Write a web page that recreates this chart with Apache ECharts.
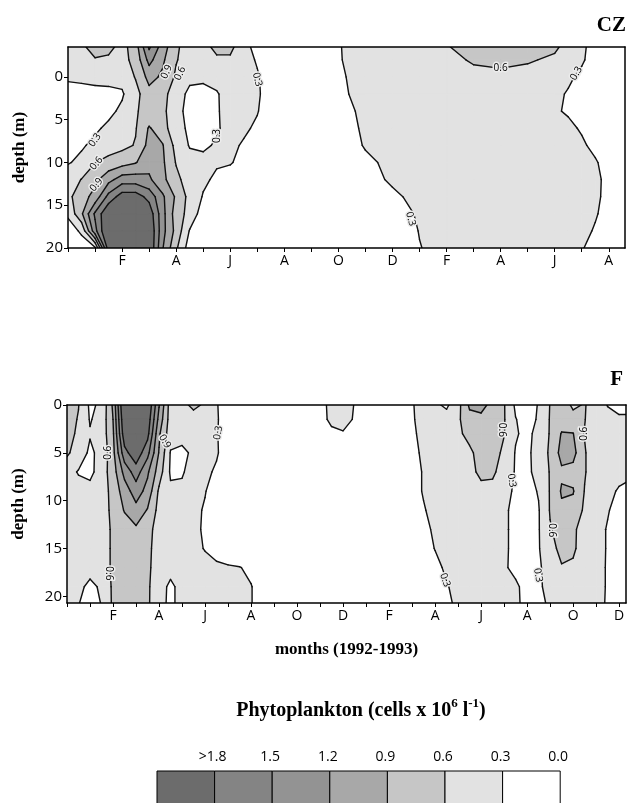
<!DOCTYPE html>
<html>
<head>
<meta charset="utf-8">
<script src="https://cdn.jsdelivr.net/npm/echarts@6/dist/echarts.min.js"></script>
<style>
html, body { margin: 0; padding: 0; background: #fff; }
#chart { width: 628px; height: 803px; }
</style>
</head>
<body>
<div id="chart"></div>
<script>
/*
 * contour levels and fills (lightest first)
 */
var levels = [0.3, 0.6, 0.9, 1.2, 1.5, 1.8];
var levelColors = ["#e2e2e2", "#c6c6c6", "#a8a8a8", "#939393", "#848484", "#6c6c6c"];

var legendLabels = [">1.8", "1.5", "1.2", "0.9", "0.6", "0.3", "0.0"];

/* month index 0 = December 1991 */
var monthLetters = ["D", "J", "F", "M", "A", "M", "J", "J", "A", "S", "O", "N", "D",
	"J", "F", "M", "A", "M", "J", "J", "A", "S", "O", "N", "D"];

var depthTicks = [0, 5, 10, 15, 20];

/*
 * CZ station
 */
var topMonths = [0, 0.5, 1, 1.5, 2, 2.5, 3, 3.5, 4, 4.5, 5, 5.5, 6, 6.5, 7, 7.5, 8,
	9, 10, 11, 12, 13, 14, 15, 16, 17, 18, 18.5, 19, 19.5, 20, 20.6];
var topDepths = [-3.5, -2, 0, 2, 4, 6, 8, 10, 12, 14, 16, 18, 20];
var topValues = [
	[0.45, 0.55, 0.7, 0.68, 0.5, 0.75, 1.55, 1.05, 0.65, 0.45, 0.5, 0.68, 0.68, 0.4, 0.2, 0.1, 0.1, 0.1, 0.28, 0.45, 0.5, 0.5, 0.58, 0.72, 0.75, 0.72, 0.65, 0.5, 0.35, 0.2, 0.15, 0.15],
	[0.42, 0.5, 0.58, 0.55, 0.5, 0.7, 1.3, 0.95, 0.62, 0.45, 0.45, 0.55, 0.55, 0.38, 0.28, 0.15, 0.1, 0.1, 0.28, 0.42, 0.48, 0.5, 0.55, 0.62, 0.65, 0.63, 0.55, 0.45, 0.33, 0.2, 0.15, 0.15],
	[0.33, 0.36, 0.4, 0.4, 0.38, 0.62, 1.0, 0.85, 0.55, 0.35, 0.35, 0.38, 0.4, 0.38, 0.32, 0.2, 0.12, 0.1, 0.26, 0.4, 0.45, 0.48, 0.5, 0.55, 0.55, 0.5, 0.45, 0.34, 0.25, 0.15, 0.12, 0.12],
	[0.22, 0.2, 0.2, 0.22, 0.27, 0.5, 0.8, 0.72, 0.4, 0.25, 0.22, 0.28, 0.4, 0.38, 0.33, 0.2, 0.12, 0.1, 0.25, 0.38, 0.42, 0.45, 0.45, 0.45, 0.45, 0.42, 0.35, 0.28, 0.2, 0.12, 0.1, 0.1],
	[0.2, 0.18, 0.2, 0.24, 0.35, 0.58, 0.68, 0.68, 0.38, 0.22, 0.18, 0.28, 0.38, 0.36, 0.31, 0.2, 0.12, 0.1, 0.2, 0.36, 0.4, 0.42, 0.42, 0.42, 0.42, 0.4, 0.32, 0.28, 0.2, 0.12, 0.1, 0.1],
	[0.2, 0.22, 0.26, 0.35, 0.45, 0.58, 0.93, 0.72, 0.4, 0.25, 0.2, 0.28, 0.36, 0.33, 0.27, 0.15, 0.12, 0.1, 0.18, 0.34, 0.38, 0.4, 0.4, 0.4, 0.4, 0.4, 0.38, 0.34, 0.28, 0.15, 0.1, 0.1],
	[0.22, 0.27, 0.36, 0.45, 0.52, 0.62, 1.0, 0.92, 0.5, 0.28, 0.27, 0.32, 0.34, 0.28, 0.2, 0.12, 0.1, 0.1, 0.15, 0.32, 0.38, 0.4, 0.4, 0.4, 0.4, 0.4, 0.38, 0.36, 0.33, 0.25, 0.15, 0.12],
	[0.28, 0.36, 0.59, 0.7, 0.78, 0.88, 1.1, 0.95, 0.58, 0.4, 0.35, 0.33, 0.32, 0.22, 0.15, 0.1, 0.1, 0.1, 0.12, 0.25, 0.36, 0.4, 0.4, 0.4, 0.4, 0.4, 0.4, 0.38, 0.36, 0.32, 0.22, 0.15],
	[0.45, 0.61, 0.82, 1.1, 1.35, 1.35, 1.25, 0.98, 0.68, 0.45, 0.35, 0.25, 0.18, 0.12, 0.1, 0.1, 0.1, 0.1, 0.1, 0.2, 0.34, 0.4, 0.4, 0.4, 0.4, 0.4, 0.4, 0.4, 0.38, 0.34, 0.25, 0.15],
	[0.52, 0.78, 1.0, 1.6, 1.95, 1.95, 1.7, 1.25, 0.85, 0.5, 0.28, 0.18, 0.12, 0.1, 0.1, 0.1, 0.1, 0.1, 0.1, 0.1, 0.25, 0.38, 0.4, 0.4, 0.4, 0.4, 0.4, 0.4, 0.38, 0.34, 0.24, 0.15],
	[0.35, 0.85, 1.55, 2.1, 2.3, 2.3, 2.0, 1.3, 0.75, 0.5, 0.15, 0.1, 0.1, 0.1, 0.1, 0.1, 0.1, 0.1, 0.1, 0.1, 0.15, 0.34, 0.4, 0.4, 0.4, 0.4, 0.4, 0.4, 0.36, 0.32, 0.22, 0.15],
	[0.15, 0.35, 1.4, 2.2, 2.4, 2.4, 2.1, 1.3, 0.8, 0.28, 0.12, 0.1, 0.1, 0.1, 0.1, 0.1, 0.1, 0.1, 0.1, 0.1, 0.12, 0.31, 0.4, 0.4, 0.4, 0.4, 0.4, 0.4, 0.36, 0.28, 0.2, 0.15],
	[0.1, 0.15, 0.25, 2.0, 2.4, 2.4, 2.1, 1.22, 0.65, 0.15, 0.1, 0.1, 0.1, 0.1, 0.1, 0.1, 0.1, 0.1, 0.1, 0.1, 0.1, 0.29, 0.4, 0.4, 0.4, 0.4, 0.4, 0.4, 0.32, 0.2, 0.15, 0.15]
];

/*
 * F station
 */
var bottomMonths = [0, 0.5, 1, 1.5, 2, 2.5, 3, 3.5, 4, 4.5, 5, 5.5, 6, 6.5, 7, 7.5, 8, 8.5, 9,
	10, 11, 11.5, 12, 12.5, 13, 14, 15,
	15.5, 16, 16.5, 17, 17.5, 18, 18.5, 19, 19.5, 20, 20.5, 21, 21.5, 22, 22.5, 23, 23.5, 24, 24.3];
var bottomDepths = [0, 1.5, 3, 5, 7, 9, 11, 13, 15, 17, 19, 20.7];
var bottomValues = [
	[0.75, 0.61, 0.25, 0.35, 0.95, 2.2, 2.3, 2.1, 1.22, 0.45, 0.5, 0.68, 0.55, 0.32, 0.15, 0.1, 0.1, 0.1, 0.1, 0.1, 0.2, 0.38, 0.42, 0.29, 0.15, 0.1, 0.28, 0.4, 0.35, 0.25, 0.5, 0.95, 1.0, 0.8, 0.62, 0.25, 0.15, 0.32, 0.61, 0.75, 0.55, 0.62, 0.45, 0.29, 0.2, 0.2],
	[0.72, 0.58, 0.28, 0.4, 0.9, 2.1, 2.25, 2.0, 1.1, 0.45, 0.42, 0.45, 0.4, 0.33, 0.15, 0.1, 0.1, 0.1, 0.1, 0.1, 0.22, 0.35, 0.38, 0.28, 0.15, 0.1, 0.27, 0.4, 0.42, 0.42, 0.55, 0.8, 0.82, 0.75, 0.62, 0.31, 0.2, 0.33, 0.62, 0.75, 0.7, 0.61, 0.45, 0.38, 0.35, 0.35],
	[0.7, 0.55, 0.32, 0.42, 0.85, 2.0, 2.2, 1.9, 0.95, 0.42, 0.38, 0.4, 0.38, 0.32, 0.15, 0.1, 0.1, 0.1, 0.1, 0.1, 0.15, 0.25, 0.28, 0.2, 0.12, 0.1, 0.25, 0.38, 0.42, 0.45, 0.55, 0.68, 0.75, 0.72, 0.61, 0.33, 0.22, 0.4, 0.62, 0.92, 0.91, 0.59, 0.45, 0.4, 0.38, 0.38],
	[0.65, 0.45, 0.25, 0.38, 0.8, 1.7, 2.0, 1.6, 0.88, 0.28, 0.25, 0.34, 0.38, 0.33, 0.15, 0.1, 0.1, 0.1, 0.1, 0.1, 0.1, 0.1, 0.1, 0.1, 0.1, 0.1, 0.22, 0.35, 0.42, 0.45, 0.48, 0.55, 0.7, 0.7, 0.55, 0.28, 0.25, 0.4, 0.65, 1.0, 1.0, 0.62, 0.45, 0.4, 0.38, 0.38],
	[0.4, 0.28, 0.22, 0.45, 0.75, 1.3, 1.65, 1.25, 0.75, 0.26, 0.28, 0.38, 0.36, 0.26, 0.15, 0.1, 0.1, 0.1, 0.1, 0.1, 0.1, 0.1, 0.1, 0.1, 0.1, 0.1, 0.2, 0.32, 0.4, 0.42, 0.45, 0.5, 0.68, 0.66, 0.45, 0.28, 0.25, 0.38, 0.62, 0.85, 0.8, 0.62, 0.45, 0.4, 0.36, 0.36],
	[0.38, 0.4, 0.4, 0.45, 0.7, 1.05, 1.35, 1.1, 0.55, 0.35, 0.34, 0.38, 0.31, 0.2, 0.12, 0.1, 0.1, 0.1, 0.1, 0.1, 0.1, 0.1, 0.1, 0.1, 0.1, 0.1, 0.2, 0.32, 0.4, 0.42, 0.42, 0.45, 0.5, 0.5, 0.4, 0.25, 0.2, 0.32, 0.62, 0.93, 0.92, 0.59, 0.45, 0.35, 0.28, 0.25],
	[0.4, 0.42, 0.42, 0.45, 0.68, 0.92, 1.1, 0.88, 0.5, 0.38, 0.33, 0.35, 0.28, 0.15, 0.1, 0.1, 0.1, 0.1, 0.1, 0.1, 0.1, 0.1, 0.1, 0.1, 0.1, 0.1, 0.15, 0.28, 0.38, 0.4, 0.42, 0.42, 0.42, 0.42, 0.35, 0.22, 0.18, 0.28, 0.62, 0.85, 0.8, 0.55, 0.42, 0.32, 0.2, 0.18],
	[0.42, 0.42, 0.42, 0.45, 0.65, 0.75, 0.85, 0.72, 0.45, 0.38, 0.38, 0.35, 0.27, 0.15, 0.1, 0.1, 0.1, 0.1, 0.1, 0.1, 0.1, 0.1, 0.1, 0.1, 0.1, 0.1, 0.12, 0.22, 0.35, 0.4, 0.42, 0.42, 0.42, 0.42, 0.35, 0.22, 0.18, 0.28, 0.58, 0.7, 0.65, 0.48, 0.4, 0.28, 0.18, 0.15],
	[0.42, 0.42, 0.42, 0.45, 0.65, 0.72, 0.75, 0.68, 0.45, 0.4, 0.38, 0.35, 0.29, 0.2, 0.12, 0.1, 0.1, 0.1, 0.1, 0.1, 0.1, 0.1, 0.1, 0.1, 0.1, 0.1, 0.1, 0.18, 0.31, 0.38, 0.42, 0.42, 0.42, 0.42, 0.35, 0.22, 0.18, 0.28, 0.5, 0.68, 0.65, 0.45, 0.4, 0.28, 0.18, 0.15],
	[0.42, 0.42, 0.42, 0.45, 0.65, 0.7, 0.72, 0.66, 0.45, 0.38, 0.38, 0.38, 0.36, 0.35, 0.33, 0.31, 0.25, 0.15, 0.1, 0.1, 0.1, 0.1, 0.1, 0.1, 0.1, 0.1, 0.1, 0.12, 0.22, 0.35, 0.4, 0.42, 0.42, 0.42, 0.33, 0.24, 0.18, 0.26, 0.42, 0.58, 0.55, 0.42, 0.38, 0.28, 0.18, 0.15],
	[0.4, 0.38, 0.22, 0.35, 0.65, 0.7, 0.72, 0.65, 0.4, 0.25, 0.38, 0.4, 0.4, 0.38, 0.36, 0.34, 0.31, 0.2, 0.1, 0.1, 0.1, 0.1, 0.1, 0.1, 0.1, 0.1, 0.1, 0.1, 0.15, 0.28, 0.38, 0.4, 0.4, 0.4, 0.36, 0.34, 0.22, 0.26, 0.38, 0.45, 0.45, 0.4, 0.38, 0.28, 0.18, 0.15],
	[0.4, 0.31, 0.2, 0.31, 0.65, 0.7, 0.7, 0.65, 0.38, 0.25, 0.38, 0.4, 0.4, 0.38, 0.36, 0.34, 0.31, 0.2, 0.1, 0.1, 0.1, 0.1, 0.1, 0.1, 0.1, 0.1, 0.1, 0.1, 0.12, 0.22, 0.38, 0.4, 0.4, 0.4, 0.38, 0.35, 0.22, 0.22, 0.35, 0.42, 0.42, 0.4, 0.36, 0.28, 0.18, 0.15]
];

/* contour labels: month, depth, text, rotation (deg) */
var topLabels = [
	[1.0, 7.4, "0.3", 55],
	[1.05, 10.1, "0.6", 50],
	[1.05, 12.6, "0.9", 50],
	[3.65, -0.6, "0.9", 65],
	[4.15, -0.4, "0.6", 65],
	[5.5, 6.9, "0.3", 90],
	[7.0, 0.3, "0.3", -75],
	[16.0, -1.0, "0.6", 0],
	[18.8, -0.4, "0.3", 60],
	[12.67, 16.6, "0.3", -75]
];
var bottomLabels = [
	[1.8, 5.0, "0.6", 90],
	[1.8, 17.6, "0.6", -90],
	[4.25, 3.8, "0.9", -60],
	[6.57, 2.9, "0.3", 80],
	[18.9, 2.6, "0.6", -90],
	[19.33, 7.9, "0.3", -80],
	[16.43, 18.3, "0.3", -70],
	[22.5, 3.0, "0.6", 90],
	[21.07, 13.1, "0.6", -90],
	[20.48, 17.8, "0.3", -80]
];

/*
 * cell list for a grid
 */
function cellList(xs, ys) {
	var out = [];
	for (var j = 0; j < ys.length - 1; j++) {
		for (var i = 0; i < xs.length - 1; i++) out.push([i, j]);
	}
	return out;
}

function crossPoint(p, v, L, a, b) {
	var t = (L - v[a]) / (v[b] - v[a]);
	return [p[a][0] + t * (p[b][0] - p[a][0]), p[a][1] + t * (p[b][1] - p[a][1])];
}

/*
 * part of one cell at or above level L
 */
function regionPolygons(p, v, L) {
	var above = v.map(function(x) { return x >= L; });
	var n = above.filter(Boolean).length;
	if (n === 0) return [];
	if (n === 4) return [p.slice()];
	if (n === 2 && above[0] === above[2]) {
		var centre = (v[0] + v[1] + v[2] + v[3]) / 4;
		if (centre < L) {
			var polys = [];
			for (var k = 0; k < 4; k++) {
				if (above[k]) polys.push([p[k], crossPoint(p, v, L, k, (k + 1) % 4), crossPoint(p, v, L, k, (k + 3) % 4)]);
			}
			return polys;
		}
	}
	var out = [];
	for (var a = 0; a < 4; a++) {
		var b = (a + 1) % 4;
		if (above[a]) out.push(p[a]);
		if (above[a] !== above[b]) out.push(crossPoint(p, v, L, a, b));
	}
	return [out];
}

/*
 * contour segments of one cell
 */
function contourSegments(p, v, L) {
	var above = v.map(function(x) { return x >= L; });
	var pts = [];
	for (var a = 0; a < 4; a++) {
		var b = (a + 1) % 4;
		if (above[a] !== above[b]) pts.push(crossPoint(p, v, L, a, b));
	}
	if (pts.length === 2) return [[pts[0], pts[1]]];
	if (pts.length === 4) {
		var centre = (v[0] + v[1] + v[2] + v[3]) / 4;
		var segs = [];
		for (var k = 0; k < 4; k++) {
			if (above[k] === (centre < L)) segs.push([pts[(k + 3) % 4], pts[k]]);
		}
		return segs;
	}
	return [];
}

function cellCorners(xs, ys, z, api) {
	var i = api.value(0), j = api.value(1);
	return {
		p: [api.coord([xs[i], ys[j]]), api.coord([xs[i + 1], ys[j]]),
			api.coord([xs[i + 1], ys[j + 1]]), api.coord([xs[i], ys[j + 1]])],
		v: [z[j][i], z[j][i + 1], z[j + 1][i + 1], z[j + 1][i]]
	};
}

/* one fill band per series, so lighter strokes never cover darker fills */
function fillRenderer(xs, ys, z, k) {
	return function(params, api) {
		var c = cellCorners(xs, ys, z, api);
		var children = regionPolygons(c.p, c.v, levels[k]).map(function(poly) {
			return {
				type: "polygon",
				shape: { points: poly },
				style: { fill: levelColors[k], stroke: levelColors[k], lineWidth: 1 }
			};
		});
		return { type: "group", children: children };
	};
}

function lineRenderer(xs, ys, z) {
	return function(params, api) {
		var c = cellCorners(xs, ys, z, api);
		var children = [];
		levels.forEach(function(L) {
			contourSegments(c.p, c.v, L).forEach(function(s) {
				children.push({
					type: "line",
					shape: { x1: s[0][0], y1: s[0][1], x2: s[1][0], y2: s[1][1] },
					style: { stroke: "#111", lineWidth: 1.4, lineCap: "round" }
				});
			});
		});
		return { type: "group", children: children };
	};
}

function labelRenderer(list) {
	return function(params, api) {
		var item = list[params.dataIndex];
		var pt = api.coord([item[0], item[1]]);
		return {
			type: "text",
			x: pt[0],
			y: pt[1],
			rotation: item[3] * Math.PI / 180,
			style: {
				text: item[2],
				fill: "#000",
				font: "10px 'Open Sans'",
				align: "center",
				verticalAlign: "middle",
				stroke: "#ececec",
				lineWidth: 3
			}
		};
	};
}

function panelSeries(axis, xs, ys, z, labels) {
	var cells = cellList(xs, ys);
	var list = levels.map(function(L, k) {
		return {
			type: "custom", xAxisIndex: axis, yAxisIndex: axis, silent: true, clip: true, z: 1,
			data: cells, renderItem: fillRenderer(xs, ys, z, k)
		};
	});
	list.push({
		type: "custom", xAxisIndex: axis, yAxisIndex: axis, silent: true, clip: true, z: 2,
		data: cells, renderItem: lineRenderer(xs, ys, z)
	});
	list.push({
		type: "custom", xAxisIndex: axis, yAxisIndex: axis, silent: true, clip: true, z: 3,
		data: labels.map(function(d) { return [d[0], d[1]]; }), renderItem: labelRenderer(labels)
	});
	return list;
}

var axisColor = "#000";
var tickFont = "Open Sans";

function monthAxes(grid, max, name) {
	var ticks = [], labels = [];
	for (var m = 0; m < monthLetters.length && m <= max; m++) {
		ticks.push(m);
		if (m > 0 && m % 2 === 0) labels.push(m);
	}
	return [{
		gridIndex: grid, type: "value", min: 0, max: max, position: "bottom", z: 10,
		axisLine: { show: true, onZero: false, lineStyle: { color: axisColor, width: 1.5 } },
		axisTick: { show: true, customValues: ticks, length: 4, lineStyle: { color: axisColor, width: 1 } },
		axisLabel: {
			customValues: labels, color: "#000", fontSize: 14, fontFamily: tickFont, margin: 6,
			formatter: function(v) { return monthLetters[v]; }
		},
		splitLine: { show: false },
		name: name, nameLocation: "middle", nameGap: 38,
		nameTextStyle: { fontFamily: "Liberation Serif", fontWeight: "bold", fontSize: 17, color: "#000" }
	}, {
		gridIndex: grid, type: "value", min: 0, max: max, position: "top", z: 10,
		axisLine: { show: true, onZero: false, lineStyle: { color: axisColor, width: 1.5 } },
		axisTick: { show: false }, axisLabel: { show: false }, splitLine: { show: false }
	}];
}

function depthAxes(grid, min, max) {
	return [{
		gridIndex: grid, type: "value", min: min, max: max, inverse: true, position: "left", z: 10,
		axisLine: { show: true, onZero: false, lineStyle: { color: axisColor, width: 1.5 } },
		axisTick: { show: true, customValues: depthTicks, length: 4, lineStyle: { color: axisColor, width: 1 } },
		axisLabel: { customValues: depthTicks, color: "#000", fontSize: 15, fontFamily: tickFont, margin: 5 },
		splitLine: { show: false },
		name: "depth (m)", nameLocation: "middle", nameGap: 40, nameRotate: 90,
		nameTextStyle: { fontFamily: "Liberation Serif", fontWeight: "bold", fontSize: 17, color: "#000" }
	}, {
		gridIndex: grid, type: "value", min: min, max: max, inverse: true, position: "right", z: 10,
		axisLine: { show: true, onZero: false, lineStyle: { color: axisColor, width: 1.5 } },
		axisTick: { show: false }, axisLabel: { show: false }, splitLine: { show: false }
	}];
}

/*
 * legend strip
 */
function legendGraphic() {
	var x0 = 157, w = 57.6, y0 = 771, h = 36;
	var items = [];
	legendLabels.forEach(function(label, k) {
		items.push({
			type: "rect",
			shape: { x: x0 + k * w, y: y0, width: w, height: h },
			style: { fill: k < levelColors.length ? levelColors[levelColors.length - 1 - k] : "#fff", stroke: "#000", lineWidth: 1 }
		});
		items.push({
			type: "text",
			x: x0 + (k + 1) * w - 2,
			y: 757,
			style: { text: label, fill: "#000", font: "14px 'Open Sans'", align: "center", verticalAlign: "middle" }
		});
	});
	items.push({
		type: "text",
		x: 361,
		y: 711,
		style: {
			text: "{t|Phytoplankton (cells x 10}{s|6}{t| l}{s|-1}{t|)}",
			align: "center",
			verticalAlign: "middle",
			rich: {
				t: { fontFamily: "Liberation Serif", fontWeight: "bold", fontSize: 20, lineHeight: 28, fill: "#000" },
				s: { fontFamily: "Liberation Serif", fontWeight: "bold", fontSize: 13, lineHeight: 14, verticalAlign: "top", fill: "#000" }
			}
		}
	});
	return items;
}

var chart = echarts.init(document.getElementById("chart"), null, { renderer: "canvas" });

chart.setOption({
	animation: false,
	backgroundColor: "#fff",
	title: [{
		text: "CZ", right: 2, top: 15, padding: 0,
		textStyle: { fontFamily: "Liberation Serif", fontWeight: "bold", fontSize: 21, color: "#000" }
	}, {
		text: "F", right: 5, top: 369, padding: 0,
		textStyle: { fontFamily: "Liberation Serif", fontWeight: "bold", fontSize: 21, color: "#000" }
	}],
	grid: [
		{ left: 68, top: 47, width: 557, height: 201 },
		{ left: 67, top: 405, width: 559, height: 198 }
	],
	xAxis: monthAxes(0, topMonths[topMonths.length - 1], "").concat(
		monthAxes(1, bottomMonths[bottomMonths.length - 1], "months (1992-1993)")),
	yAxis: depthAxes(0, topDepths[0], topDepths[topDepths.length - 1]).concat(
		depthAxes(1, bottomDepths[0], bottomDepths[bottomDepths.length - 1])),
	series: panelSeries(0, topMonths, topDepths, topValues, topLabels).concat(
		panelSeries(2, bottomMonths, bottomDepths, bottomValues, bottomLabels)),
	graphic: legendGraphic()
});
</script>
</body>
</html>
